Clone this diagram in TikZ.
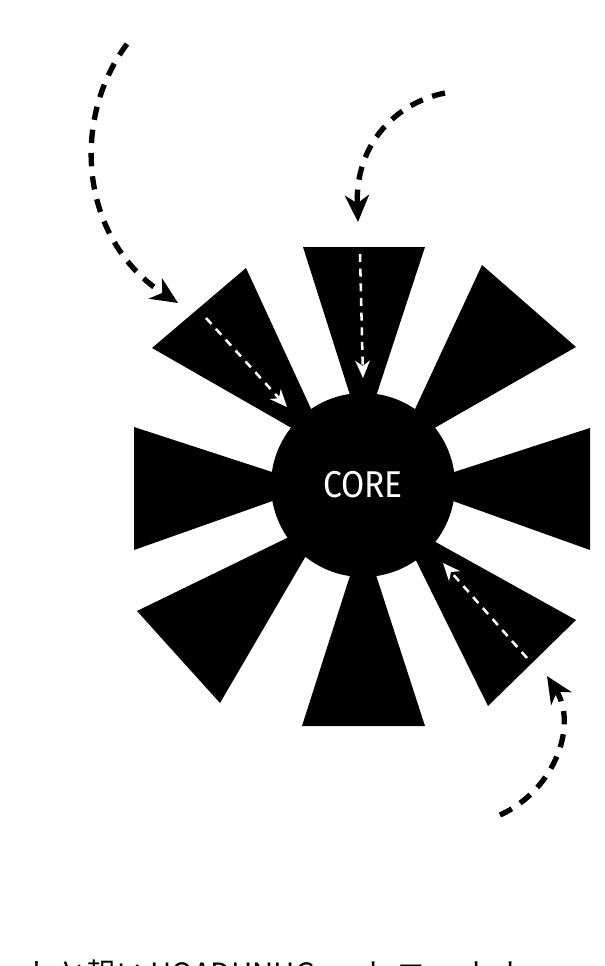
\documentclass[tikz,border=0pt]{standalone}
\usepackage{fontspec}
\setmainfont{Fira Sans}
\newfontfamily\corefont[FakeStretch=0.9]{Fira Sans}
\newfontfamily\cjkfont{Noto Sans CJK JP}
\usetikzlibrary{arrows.meta}
\begin{document}
\begin{tikzpicture}[x=0.75pt,y=-0.75pt,
  wedge/.style={fill=black},
  flow/.style={black, line width=4pt, dash pattern=on 10pt off 7.5pt,
    -{Stealth[length=20pt,width=18pt,inset=6pt]}},
  inflow/.style={white, line width=1.9pt, dash pattern=on 6pt off 5pt,
    -{Stealth[length=13pt,width=11pt,inset=4pt]}},
  corestyle/.style={circle, fill=black, inner sep=0pt, minimum size=138pt,
    text=white, font=\corefont\fontsize{28pt}{32pt}\selectfont}
]
\useasboundingbox (0,0) rectangle (605,966);
% wedges
\fill[wedge] (303,247) -- (425,247) -- (363,436) -- cycle;          % top
\fill[wedge] (302,726) -- (425,726) -- (363,535) -- cycle;          % bottom
\fill[wedge] (134,427) -- (134,550) -- (315,486) -- cycle;          % left
\fill[wedge] (590,428) -- (590,550) -- (411,486) -- cycle;          % right
\fill[wedge] (152,348) -- (246,268) -- (330,450) -- cycle;          % upper left
\fill[wedge] (482,265) -- (576,347) -- (396,450) -- cycle;          % upper right
\fill[wedge] (137,611) -- (220,703) -- (328,518) -- cycle;          % lower left
\fill[wedge] (576,620) -- (488,706) -- (396,520) -- cycle;          % lower right
% core
\node[corestyle] (core) at (363,485) {CORE};
% outer flows
\coordinate (a1s) at (127,44);  \coordinate (a1e) at (178,303);
\coordinate (a2s) at (445,93);  \coordinate (a2e) at (358,222);
\coordinate (a3s) at (500,815); \coordinate (a3e) at (547,676);
\draw[flow] (a1s) .. controls (70,120) and (80,240) .. (a1e);
\draw[flow] (a2s) .. controls (395,103) and (355,145) .. (a2e);
\draw[flow] (a3s) .. controls (555,790) and (578,725) .. (a3e);
% inner flows
\coordinate (b1s) at (206,318); \coordinate (b1e) at (287,407);
\coordinate (b2s) at (360,254); \coordinate (b2e) at (363,378);
\coordinate (b3s) at (527,658); \coordinate (b3e) at (443,563);
\draw[inflow] (b1s) -- (b1e);
\draw[inflow] (b2s) -- (b2e);
\draw[inflow] (b3s) -- (b3e);
% caption, clipped by the lower edge as in the reference
\node[anchor=base west, inner sep=0pt, font=\cjkfont\fontsize{22pt}{26pt}\selectfont] (cap) at (28,984)
  {しと報い\,UOADHNHG\ \ ー\,ト\,エ\,ー\,ト\,ト};
\end{tikzpicture}
\end{document}
